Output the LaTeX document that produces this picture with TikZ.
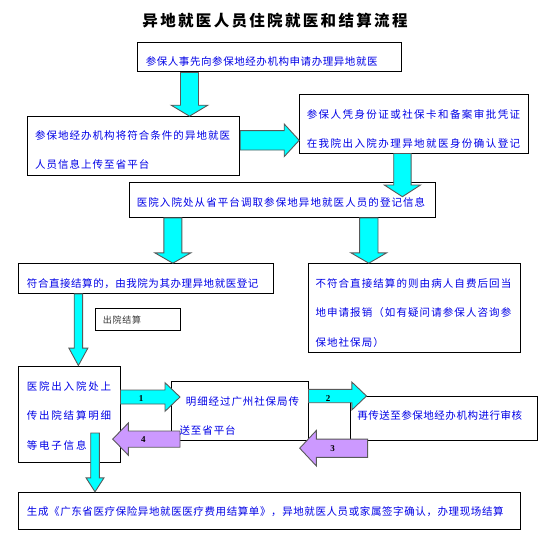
\documentclass[tikz,border=0pt]{standalone}
\usepackage{fontspec}
\setmainfont{Liberation Serif}
\newfontfamily\cjk{Noto Sans CJK SC}
\usetikzlibrary{calc}

\definecolor{flowcyan}{RGB}{0,255,255}
\definecolor{flowlilac}{RGB}{204,153,255}
\definecolor{flowblue}{RGB}{0,0,230}

\tikzset{
  flowbox/.style={draw=black, line width=1pt, inner sep=0pt},
  flowtext/.style={anchor=west, inner sep=0pt, align=left, text=flowblue,
    font=\cjk\fontsize{10.5}{29.5}\selectfont\addfontfeature{LetterSpace=#1}},
  flowtext/.default=5,
  fatcyan/.style={fill=flowcyan, draw=black!65, line width=0.9pt, line join=miter},
  fatlilac/.style={fill=flowlilac, draw=black!65, line width=0.9pt, line join=miter},
  numlabel/.style={font=\fontsize{9}{10}\selectfont\bfseries, inner sep=0pt}
}

% block arrow: style, tail, tip, shaft half width, head half width, head length
\newcommand{\fatarrow}[6]{%
  \coordinate (neck) at ($(#3)!#6!(#2)$);
  \draw[#1] ($(#2)!#4!90:(#3)$) -- ($(neck)!#4!90:(#3)$) -- ($(neck)!#5!90:(#3)$) -- (#3)
    -- ($(neck)!#5!-90:(#3)$) -- ($(neck)!#4!-90:(#3)$) -- ($(#2)!#4!-90:(#3)$) -- cycle;
}

\begin{document}
\begin{tikzpicture}[x=1pt, y=-1pt]
  \useasboundingbox (0,0) rectangle (546,535);

  % title
  \node[inner sep=0pt, font=\cjk\bfseries\fontsize{15.5}{18}\selectfont\addfontfeature{LetterSpace=15}]
    (title) at (275,20.7) {异地就医人员住院就医和结算流程};

  % boxes
  \node[flowbox, minimum width=263.8pt, minimum height=29.5pt] (apply)   at (269.5,57.25) {};
  \node[flowbox, minimum width=211.8pt, minimum height=59pt]   (upload)  at (133.8,146.2) {};
  \node[flowbox, minimum width=228.6pt, minimum height=58.3pt] (confirm) at (414,123.85) {};
  \node[flowbox, minimum width=305.9pt, minimum height=34.6pt] (fetch)   at (282.55,200) {};
  \node[flowbox, minimum width=255pt,   minimum height=29.6pt] (direct)  at (146,278.5) {};
  \node[flowbox, minimum width=212.9pt, minimum height=88.6pt] (refund)  at (414.45,308) {};
  \node[flowbox, minimum width=84.7pt,  minimum height=22.3pt] (leave)   at (137.65,319.15) {};
  \node[flowbox, minimum width=101.7pt, minimum height=96.3pt] (send)    at (69.15,414.15) {};
  \node[flowbox, minimum width=136.3pt, minimum height=58.3pt] (relay)   at (239.85,410.85) {};
  \node[flowbox, minimum width=187.4pt, minimum height=44pt]   (audit)   at (443.9,418) {};
  \node[flowbox, minimum width=502.3pt, minimum height=37pt]   (settle)  at (269.55,510.8) {};

  % arrow ends
  \coordinate (k1) at (189.5,0);
  \coordinate (k2) at (0,140.3);
  \coordinate (k3) at (402.4,196.7);
  \coordinate (k4) at (172.85,0);
  \coordinate (k5) at (368.8,0);
  \coordinate (k6) at (78.4,0);
  \coordinate (k7) at (180,397);
  \coordinate (k8) at (366.5,396);
  \coordinate (k9) at (367.6,448.2);
  \coordinate (k9tip) at (299.7,448.2);
  \coordinate (k10) at (180,439.1);
  \coordinate (k10tip) at (112.7,439.1);
  \coordinate (k11) at (95,433);

  % arrows
  \fatarrow{fatcyan}{k1 |- apply.south}{k1 |- upload.north}{9pt}{18.3pt}{11pt}
  \fatarrow{fatcyan}{k2 -| upload.east}{k2 -| confirm.west}{9.7pt}{16.3pt}{15pt}
  \fatarrow{fatcyan}{k3 |- confirm.south}{k3}{8.7pt}{18.1pt}{11.7pt}
  \fatarrow{fatcyan}{k4 |- fetch.south}{k4 |- direct.north}{9pt}{18.1pt}{10.4pt}
  \fatarrow{fatcyan}{k5 |- fetch.south}{k5 |- refund.north}{9.2pt}{17.9pt}{10.4pt}
  \fatarrow{fatcyan}{k6 |- direct.south}{k6 |- send.north}{4.2pt}{9.5pt}{17.4pt}
  \fatarrow{fatcyan}{k7 -| send.east}{k7}{7pt}{14.3pt}{15pt}
  \fatarrow{fatcyan}{k8 -| relay.east}{k8}{6.7pt}{13.9pt}{14.6pt}
  \fatarrow{fatlilac}{k9}{k9tip}{9.1pt}{17.8pt}{16.7pt}
  \fatarrow{fatlilac}{k10}{k10tip}{8.1pt}{16.1pt}{15.6pt}
  \fatarrow{fatcyan}{k11}{k11 |- settle.north}{4.3pt}{9pt}{14pt}

  \node[numlabel] (n1) at (141,399) {1};
  \node[numlabel] (n2) at (328.2,398.3) {2};
  \node[numlabel] (n3) at (332.7,449) {3};
  \node[numlabel] (n4) at (143.3,440) {4};

  % texts
  \node[flowtext=5.4]  (applyt)   at (145.6,62)    {参保人事先向参保地经办机构申请办理异地就医};
  \node[flowtext=9.9]  (uploadt)  at (34.8,150.2)  {参保地经办机构将符合条件的异地就医\\人员信息上传至省平台};
  \node[flowtext=13.7] (confirmt) at (306.6,128.8) {参保人凭身份证或社保卡和备案审批凭证\\在我院出入院办理异地就医身份确认登记};
  \node[flowtext=10.3] (fetcht)   at (136.6,202.3) {医院入院处从省平台调取参保地异地就医人员的登记信息};
  \node[flowtext=5.2]  (directt)  at (26.8,283.3)  {符合直接结算的，由我院为其办理异地就医登记};
  \node[flowtext=10.3] (refundt)  at (315.3,313)   {不符合直接结算的则由病人自费后回当\\地申请报销（如有疑问请参保人咨询参\\保地社保局）};
  \node[anchor=west, inner sep=0pt, text=black!80,
    font=\cjk\fontsize{9}{10}\selectfont\addfontfeature{LetterSpace=8}]
    (leavet) at (102.7,319.7) {出院结算};
  \node[flowtext=17]   (sendt)    at (26.7,415.85) {医院出入院处上\\传出院结算明细\\等电子信息};
  \node[flowtext=8.6]  (relayt)   at (179.4,415.85) {\hspace*{6.3pt}明细经过广州社保局传\\送至省平台};
  \node[flowtext=5]    (auditt)   at (357.1,415)   {再传送至参保地经办机构进行审核};
  \node[flowtext=5.7]  (settlet)  at (26.8,511.7)  {生成《广东省医疗保险异地就医医疗费用结算单》，异地就医人员或家属签字确认，办理现场结算};
\end{tikzpicture}
\end{document}
